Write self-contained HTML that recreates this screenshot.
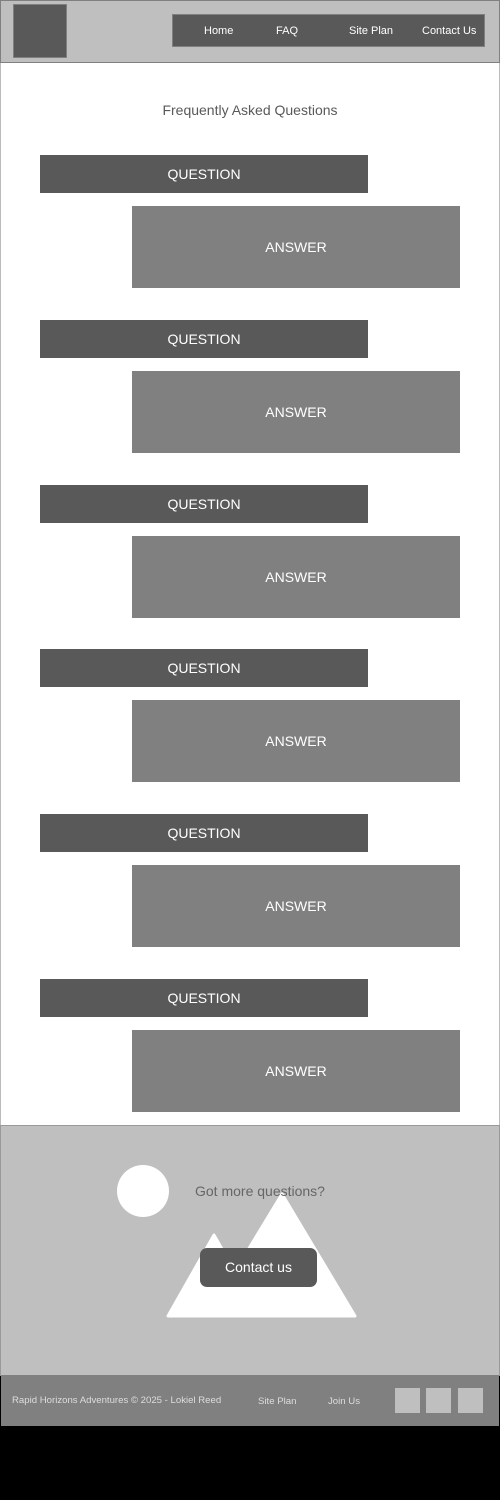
<!DOCTYPE html>
<html><head><style>
body{margin:0;width:500px;height:1500px;background:#000;position:relative;font-family:"Liberation Sans",sans-serif;overflow:hidden}
.a{position:absolute}
.q{position:absolute;left:40px;width:328px;height:38px;background:#595959;color:#fff;font-size:14px;text-align:center;line-height:38px}
.an{position:absolute;left:132px;width:328px;height:82px;background:#808080;color:#fff;font-size:14px;text-align:center;line-height:82px}
</style></head><body>
<div class="a" style="left:0;top:0;width:498px;height:61px;background:#bfbfbf;border:1px solid #808080"></div>
<div class="a" style="left:13px;top:4px;width:52px;height:52px;background:#595959;border:1px solid #808080"></div>
<div class="a" style="left:172px;top:14px;width:311px;height:31px;background:#595959;border:1px solid #808080;color:#fff;font-size:11px">
<span class="a" style="left:31px;top:10px">Home</span>
<span class="a" style="left:103px;top:10px">FAQ</span>
<span class="a" style="left:176px;top:10px">Site Plan</span>
<span class="a" style="left:249px;top:10px">Contact Us</span>
</div>
<div class="a" style="left:0;top:63px;width:500px;height:1062px;background:#fff;border-left:1px solid #bbb;border-right:1px solid #bbb;box-sizing:border-box"></div>
<div class="a" style="left:0;top:102px;width:500px;text-align:center;font-size:14px;color:#595959">Frequently Asked Questions</div>
<div class="q" style="top:155px">QUESTION</div><div class="an" style="top:206px">ANSWER</div>
<div class="q" style="top:320px">QUESTION</div><div class="an" style="top:371px">ANSWER</div>
<div class="q" style="top:485px">QUESTION</div><div class="an" style="top:536px">ANSWER</div>
<div class="q" style="top:649px">QUESTION</div><div class="an" style="top:700px">ANSWER</div>
<div class="q" style="top:814px">QUESTION</div><div class="an" style="top:865px">ANSWER</div>
<div class="q" style="top:979px">QUESTION</div><div class="an" style="top:1030px">ANSWER</div>
<div class="a" style="left:0;top:1125px;width:498px;height:250px;background:#bfbfbf;border:1px solid #999;border-bottom:none"></div>
<svg class="a" style="left:0;top:1125px" width="500" height="250">
<circle cx="143" cy="66" r="26" fill="#fff"/>
<g fill="#fff" stroke="#fff" stroke-width="3" stroke-linejoin="round">
<polygon points="214,110 168,191 260,191"/>
<polygon points="282,69 208,191 355,191"/>
</g>
</svg>
<div class="a" style="left:195px;top:1183px;font-size:14px;color:#666">Got more questions?</div>
<div class="a" style="left:200px;top:1248px;width:117px;height:39px;background:#595959;border-radius:7px;color:#fff;font-size:14px;text-align:center;line-height:39px">Contact us</div>
<div class="a" style="left:1px;top:1375px;width:498px;height:51px;background:#808080;color:#ddd;font-size:9.6px">
<span class="a" style="left:11px;top:20px">Rapid Horizons Adventures © 2025 - Lokiel Reed</span>
<span class="a" style="left:257px;top:21px">Site Plan</span>
<span class="a" style="left:327px;top:21px">Join Us</span>
<div class="a" style="left:394px;top:13px;width:25px;height:25px;background:#bfbfbf"></div>
<div class="a" style="left:425px;top:13px;width:25px;height:25px;background:#bfbfbf"></div>
<div class="a" style="left:457px;top:13px;width:25px;height:25px;background:#bfbfbf"></div>
</div>
</body></html>
